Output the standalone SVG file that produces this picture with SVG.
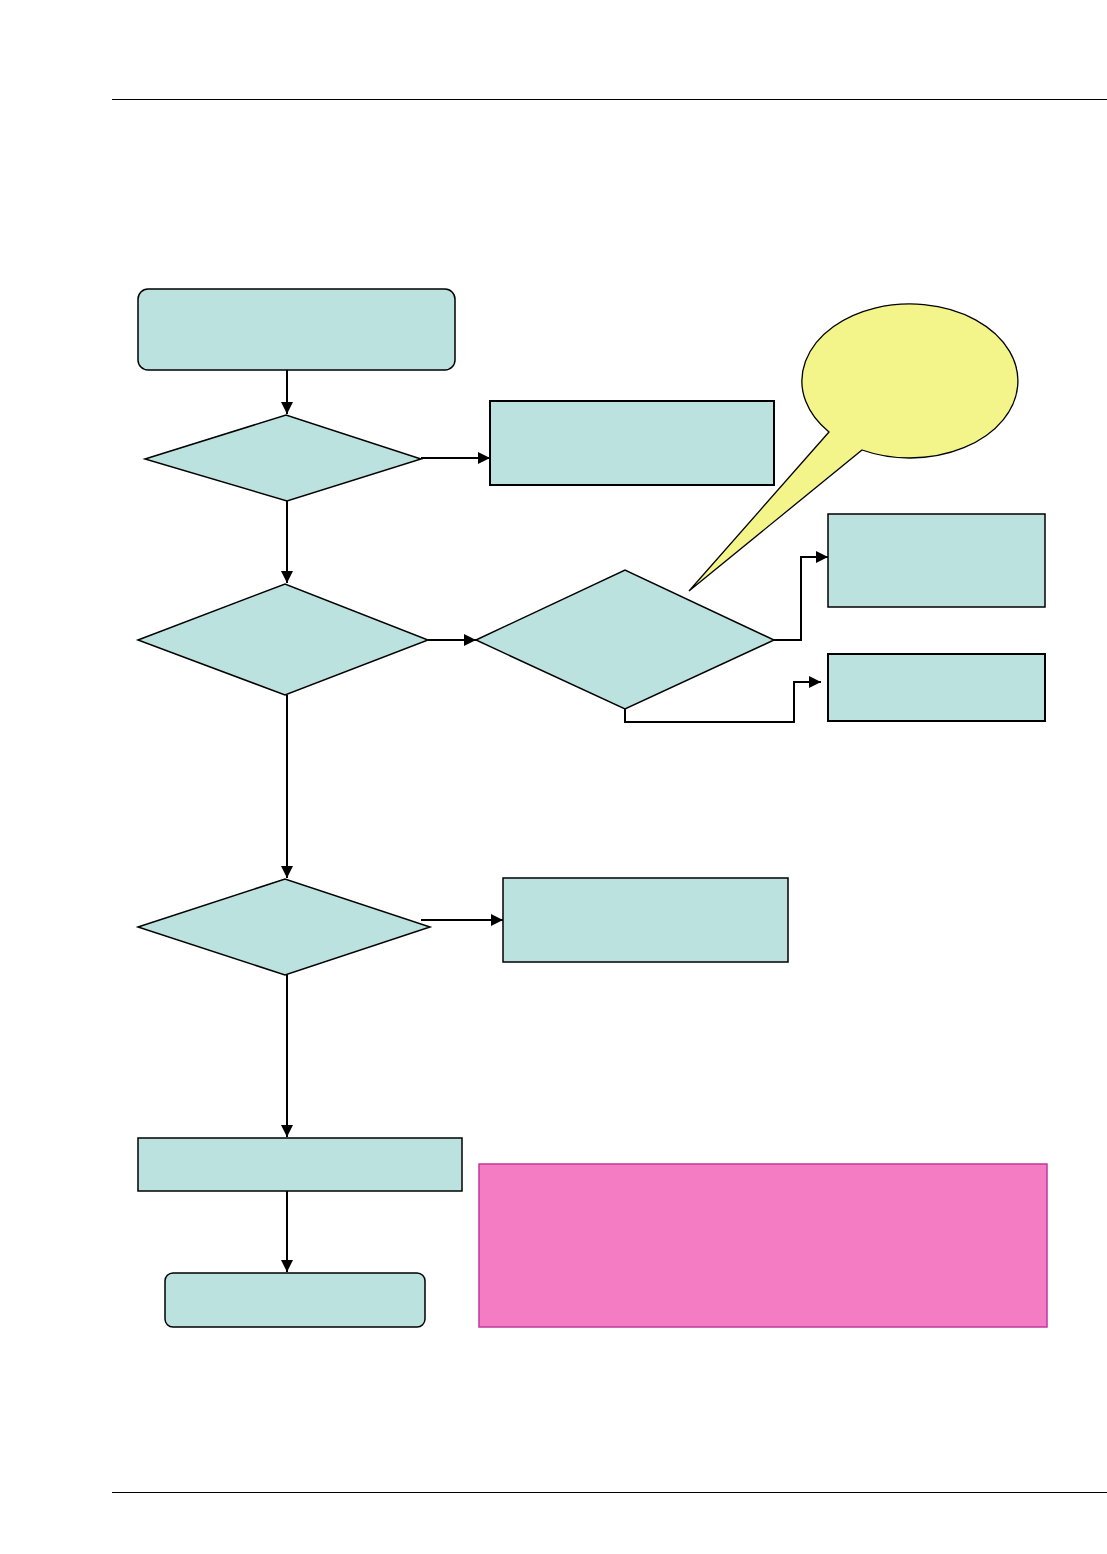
<svg xmlns="http://www.w3.org/2000/svg" width="1107" height="1554" viewBox="0 0 1107 1554">
<defs>
<style>
.n{fill:#BBE2DF;stroke:#000;stroke-width:1.5}
.t{fill:#BBE2DF;stroke:#000;stroke-width:2}
.c{fill:none;stroke:#000;stroke-width:2}
.rule{stroke:#000;stroke-width:1.2}
</style>
<marker id="ah" viewBox="0 0 10 10" refX="10" refY="5" markerWidth="12" markerHeight="12" markerUnits="userSpaceOnUse" orient="auto">
<path d="M0,0 L10,5 L0,10 Z" fill="#000"/>
</marker>
</defs>
<rect width="1107" height="1554" fill="#fff"/>
<line class="rule" x1="112" y1="99.5" x2="1107" y2="99.5"/>
<line class="rule" x1="112" y1="1492.5" x2="1107" y2="1492.5"/>

<g id="start"><rect class="n" x="138" y="289" width="317" height="81" rx="10"/></g>
<g id="d1"><polygon class="n" points="145,459 286,415 421,459 287,501"/></g>
<g id="r1"><rect class="t" x="490" y="401" width="284" height="84"/></g>
<g id="d2"><polygon class="n" points="138,640 285,584 428,640 285,695"/></g>
<g id="d3"><polygon class="n" points="476,640 625,570 774,640 625,709"/></g>
<g id="r2"><rect class="n" x="828" y="514" width="217" height="93"/></g>
<g id="r3"><rect class="t" x="828" y="654" width="217" height="67"/></g>
<g id="callout"><path d="M829,432 A108,77 0 1 1 862,450 L689,591 Z" fill="#F3F58A" stroke="#000" stroke-width="1.3"/></g>
<g id="d4"><polygon class="n" points="138,927 285,879 430,927 285,975"/></g>
<g id="r4"><rect class="n" x="503" y="878" width="285" height="84"/></g>
<g id="r5"><rect class="n" x="138" y="1138" width="324" height="53"/></g>
<g id="end"><rect class="n" x="165" y="1273" width="260" height="54" rx="8"/></g>
<g id="note"><rect x="479" y="1164" width="568" height="163" fill="#F47CC3" stroke="#C0399F" stroke-width="1.5"/></g>

<g id="connectors">
<line class="c" x1="287" y1="370" x2="287" y2="414" marker-end="url(#ah)"/>
<line class="c" x1="421" y1="458" x2="490" y2="458" marker-end="url(#ah)"/>
<line class="c" x1="287" y1="501" x2="287" y2="583" marker-end="url(#ah)"/>
<line class="c" x1="428" y1="640" x2="476" y2="640" marker-end="url(#ah)"/>
<polyline class="c" points="774,640 801,640 801,557 828,557" marker-end="url(#ah)"/>
<polyline class="c" points="625,709 625,722 794,722 794,682 821,682" marker-end="url(#ah)"/>
<line class="c" x1="287" y1="695" x2="287" y2="878" marker-end="url(#ah)"/>
<line class="c" x1="421" y1="920" x2="503" y2="920" marker-end="url(#ah)"/>
<line class="c" x1="287" y1="975" x2="287" y2="1137" marker-end="url(#ah)"/>
<line class="c" x1="287" y1="1191" x2="287" y2="1272" marker-end="url(#ah)"/>
</g>
</svg>
